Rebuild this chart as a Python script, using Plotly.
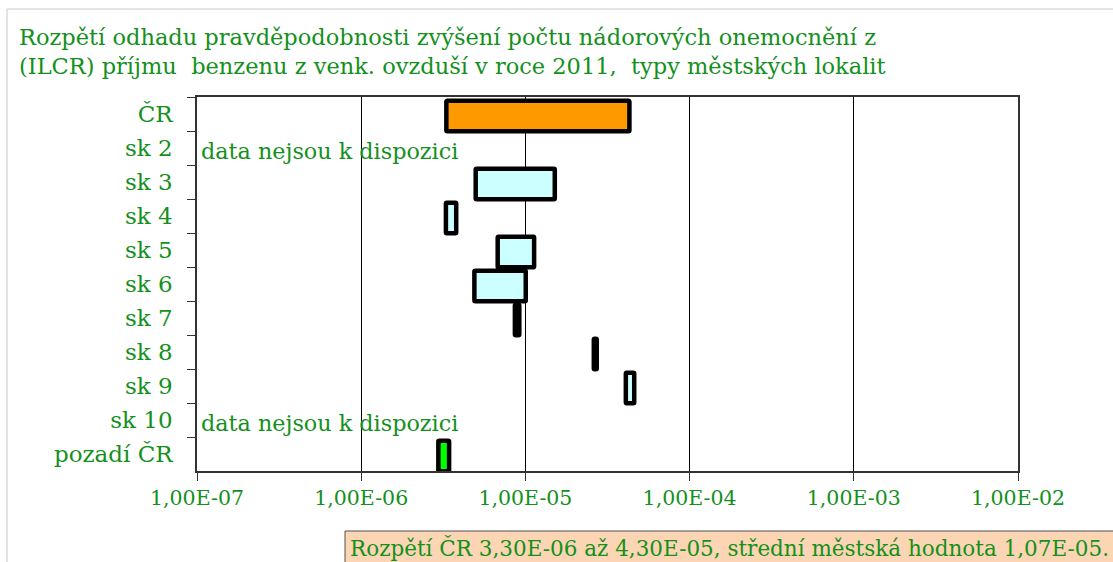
import plotly.graph_objects as go

# ---- data ----
categories = ["ČR", "sk 2", "sk 3", "sk 4", "sk 5", "sk 6", "sk 7", "sk 8", "sk 9", "sk 10", "pozadí ČR"]
ilcr_min = [3.30e-6, None, 4.98e-6, 3.28e-6, 6.78e-6, 4.89e-6, 8.63e-6, 2.61e-5, 4.09e-5, None, 2.95e-6]
ilcr_max = [4.30e-5, None, 1.51e-5, 3.79e-6, 1.13e-5, 1.005e-5, 9.18e-6, 2.72e-5, 4.60e-5, None, 3.43e-6]
bar_colors = ["#FF9900", None, "#CCFFFF", "#CCFFFF", "#CCFFFF", "#CCFFFF", "#CCFFFF",
              "#CCFFFF", "#CCFFFF", None, "#00FF00"]
no_data_rows = ["sk 2", "sk 10"]
tick_vals = [1e-7, 1e-6, 1e-5, 1e-4, 1e-3, 1e-2]
tick_text = ["1,00E-07", "1,00E-06", "1,00E-05", "1,00E-04", "1,00E-03", "1,00E-02"]

title_text = ("Rozpětí odhadu pravděpodobnosti zvýšení počtu nádorových onemocnění z<br>"
              "(ILCR) příjmu  benzenu z venk. ovzduší v roce 2011,  typy městských lokalit")
note_text = "Rozpětí ČR 3,30E-06 až 4,30E-05, střední městská hodnota 1,07E-05."

# ---- layout geometry (pixels) ----
W, H = 1113, 562
ML, MR, MT, MB = 197, 95, 97, 91
PW, PH = W - ML - MR, H - MT - MB

def px_x(px):
    return (px - ML) / PW

def px_y(py):
    return (H - MB - py) / PH

GREEN = "#14901c"
FONT = "DejaVu Serif"

rows = [i for i, v in enumerate(ilcr_min) if v is not None]
fig = go.Figure(go.Bar(
    orientation="h",
    y=[categories[i] for i in rows],
    base=[ilcr_min[i] for i in rows],
    x=[ilcr_max[i] - ilcr_min[i] for i in rows],
    marker=dict(color=[bar_colors[i] for i in rows],
                line=dict(color="black", width=4.5),
                cornerradius=1),
    width=0.9,
    offset=-0.39,
    hoverinfo="skip",
))

annotations = []
for r in no_data_rows:
    annotations.append(dict(
        x=px_x(199), xref="paper", xanchor="left",
        y=r, yref="y", yanchor="middle", yshift=-3,
        text="data nejsou k dispozici", showarrow=False,
        font=dict(family=FONT, size=22.3, color=GREEN),
    ))
annotations.append(dict(
    x=px_x(348), xref="paper", xanchor="left",
    y=px_y(548), yref="paper", yanchor="middle",
    text=note_text, showarrow=False,
    font=dict(family=FONT, size=21.5, color=GREEN),
))

shapes = [
    # outer light frame
    dict(type="rect", xref="paper", yref="paper",
         x0=px_x(7), x1=px_x(1130), y0=px_y(9), y1=px_y(580),
         line=dict(color="#c8c8c8", width=1), fillcolor="rgba(0,0,0,0)", layer="below"),
    # note box
    dict(type="rect", xref="paper", yref="paper",
         x0=px_x(345), x1=px_x(1130), y0=px_y(531), y1=px_y(580),
         line=dict(color="#505050", width=1), fillcolor="#FCD5B4", layer="below"),
]

fig.update_layout(
    width=W, height=H,
    margin=dict(l=ML, r=MR, t=MT, b=MB),
    paper_bgcolor="white", plot_bgcolor="white",
    showlegend=False,
    bargap=0.1,
    title=dict(text=title_text, x=19 / W, xref="container", xanchor="left",
               y=1 - 45 / H, yref="container", yanchor="top",
               font=dict(family=FONT, size=22.5, color=GREEN)),
    xaxis=dict(type="log", range=[-7, -2], tickvals=tick_vals, ticktext=tick_text,
               showgrid=True, gridcolor="black", gridwidth=1,
               showline=True, linecolor="#333333", linewidth=1.5, mirror=True,
               ticks="outside", ticklen=8, tickcolor="#333333",
               tickfont=dict(family=FONT, size=20.5, color=GREEN), zeroline=False),
    yaxis=dict(type="category", categoryorder="array", categoryarray=categories,
               range=[len(categories) - 0.5, -0.5],
               showline=True, linecolor="#333333", linewidth=1.5, mirror=True,
               ticks="outside", ticklen=8, tickcolor="#333333", tickson="boundaries",
               ticklabelstandoff=18, showgrid=False,
               tickfont=dict(family=FONT, size=23, color=GREEN)),
    annotations=annotations,
    shapes=shapes,
)

fig.write_html("out.html")
